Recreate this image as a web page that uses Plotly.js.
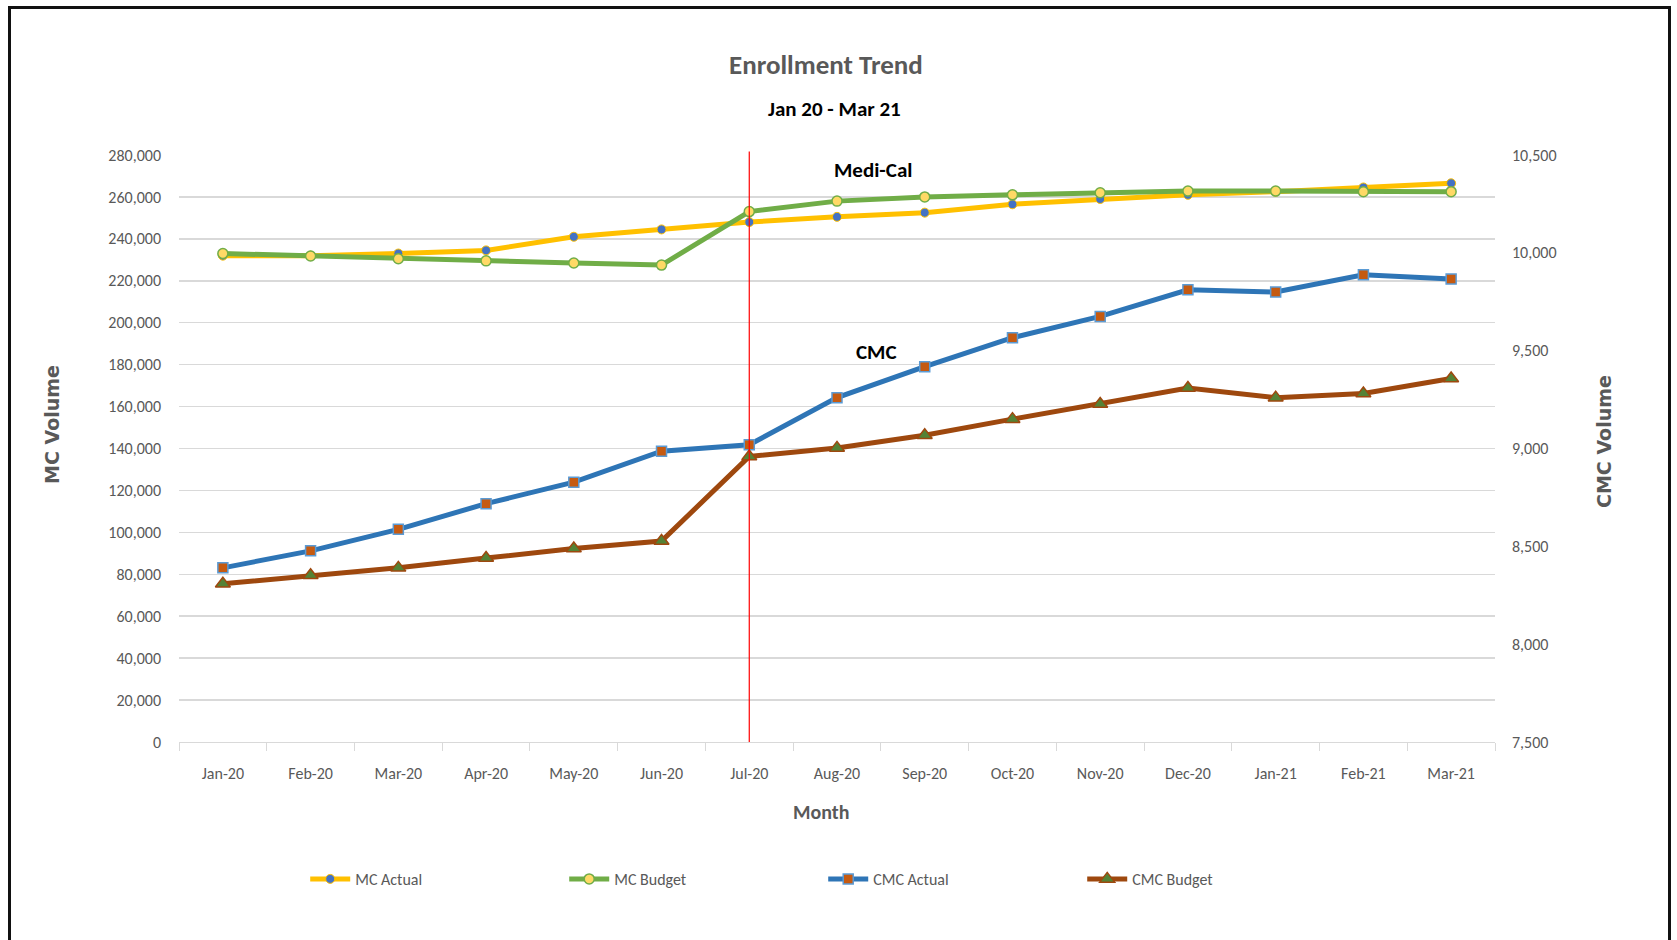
<!DOCTYPE html>
<html>
<head>
<meta charset="utf-8">
<script src="https://cdn.plot.ly/plotly-3.0.1.min.js"></script>
<style>
  html, body { margin: 0; padding: 0; background: #fff; }
  #wrap { position: relative; width: 1677px; height: 940px; overflow: hidden; }
  #chart { position: absolute; left: 0; top: 0; width: 1677px; height: 940px; }
  #frame { position: absolute; left: 8px; top: 6px; width: 1663px; height: 960px; border: 3px solid #111; box-sizing: border-box; pointer-events: none; }
</style>
</head>
<body>
<div id="wrap">
  <div id="chart"></div>
  <div id="frame"></div>
</div>
<script>
const months = ["Jan-20","Feb-20","Mar-20","Apr-20","May-20","Jun-20","Jul-20","Aug-20","Sep-20","Oct-20","Nov-20","Dec-20","Jan-21","Feb-21","Mar-21"];
const mcActual = [232000, 232000, 233000, 234500, 241000, 244500, 248000, 250500, 252500, 256500, 259000, 261000, 262500, 264500, 266500];
const mcBudget = [233000, 231800, 230500, 229500, 228500, 227500, 253000, 258000, 260000, 261000, 262000, 262800, 262800, 262500, 262500];
const cmcActual = [8390, 8477, 8587, 8718, 8828, 8986, 9019, 9260, 9418, 9566, 9675, 9811, 9800, 9888, 9866];
const cmcBudget = [8309, 8352, 8390, 8440, 8489, 8527, 8959, 9003, 9068, 9150, 9227, 9309, 9260, 9281, 9358];
const leftTicks = [0,20000,40000,60000,80000,100000,120000,140000,160000,180000,200000,220000,240000,260000,280000];
const rightTicks = [7500,8000,8500,9000,9500,10000,10500];
const dividerMonth = "Jul-20";

const FONT = "Calibri, Carlito, 'Liberation Sans Narrow', 'DejaVu Sans Condensed', sans-serif";
const AXFONT = "Verdana, 'DejaVu Sans', sans-serif";
const GRAY = "#595959";

// page-pixel -> paper helpers
const ML = 179, MR = 182, MT = 155, MB = 198, W = 1677, H = 940;
const PW = W - ML - MR, PH = H - MT - MB;
const px = v => (v - ML) / PW;
const py = v => (H - MB - v) / PH;

const traces = [
  {name: "MC Actual", x: months, y: mcActual, yaxis: "y", type: "scatter", mode: "lines+markers",
   line: {color: "#FFC000", width: 5}, marker: {symbol: "circle", size: 9, color: "#4472C4", line: {color: "#FFC000", width: 1}}},
  {name: "MC Budget", x: months, y: mcBudget, yaxis: "y", type: "scatter", mode: "lines+markers",
   line: {color: "#70AD47", width: 5}, marker: {symbol: "circle", size: 10, color: "#FFD966", line: {color: "#70AD47", width: 1.5}}},
  {name: "CMC Actual", x: months, y: cmcActual, yaxis: "y2", type: "scatter", mode: "lines+markers",
   line: {color: "#2E75B6", width: 5}, marker: {symbol: "square", size: 10, color: "#C55A11", line: {color: "#5B9BD5", width: 1.5}}},
  {name: "CMC Budget", x: months, y: cmcBudget, yaxis: "y2", type: "scatter", mode: "lines+markers",
   line: {color: "#9E480E", width: 5}, marker: {symbol: "triangle-up", size: 13, color: "#548235", line: {color: "#9E480E", width: 1.5}}}
];

const layout = {
  width: W, height: H,
  margin: {l: ML, r: MR, t: MT, b: MB},
  paper_bgcolor: "#fff", plot_bgcolor: "#fff",
  font: {family: FONT, color: GRAY, size: 16},
  showlegend: true,
  legend: {orientation: "h", xref: "container", yref: "container", x: 0.182, y: 1 - 879/940,
           xanchor: "left", yanchor: "middle", entrywidth: 204, entrywidthmode: "pixels",
           itemwidth: 40, font: {family: FONT, size: 16, color: GRAY}, traceorder: "normal"},
  xaxis: {type: "category", categoryarray: months, range: [-0.5, 14.5], showgrid: false,
          showline: true, linecolor: "#d9d9d9", linewidth: 1, ticks: "outside", ticklen: 8,
          tickcolor: "#d9d9d9", tickson: "boundaries", zeroline: false, fixedrange: true,
          ticklabelstandoff: 17, tickfont: {family: FONT, size: 16, color: GRAY}},
  yaxis: {range: [0, 280000], tickvals: leftTicks, ticktext: leftTicks.map(v => v.toLocaleString("en-US")),
          showgrid: true, gridcolor: "#d9d9d9", gridwidth: 1.5, zeroline: false, showline: false,
          ticks: "", ticklabelstandoff: 17, tickfont: {family: FONT, size: 16, color: GRAY}},
  yaxis2: {range: [7500, 10500], overlaying: "y", side: "right", tickvals: rightTicks,
           ticktext: rightTicks.map(v => v.toLocaleString("en-US")), showgrid: false, zeroline: false,
           showline: false, ticks: "", ticklabelstandoff: 16, tickfont: {family: FONT, size: 16, color: GRAY}},
  shapes: [
    {type: "line", xref: "x", yref: "paper", x0: dividerMonth, x1: dividerMonth, y0: 0, y1: 1.006,
     line: {color: "#FF0000", width: 1.2}, layer: "above"}
  ],
  annotations: [
    {text: "<b>Enrollment Trend</b>", xref: "paper", yref: "paper", x: px(826), y: py(64),
     xanchor: "center", yanchor: "middle", showarrow: false, font: {family: FONT, size: 27, color: GRAY}},
    {text: "<b>Jan 20 - Mar 21</b>", xref: "paper", yref: "paper", x: px(834), y: py(109),
     xanchor: "center", yanchor: "middle", showarrow: false, font: {family: FONT, size: 21, color: "#000"}},
    {text: "<b>Month</b>", xref: "paper", yref: "paper", x: px(821), y: py(812),
     xanchor: "center", yanchor: "middle", showarrow: false, font: {family: FONT, size: 20, color: GRAY}},
    {text: "<b>MC Volume</b>", xref: "paper", yref: "paper", x: px(52), y: py(424),
     xanchor: "center", yanchor: "middle", showarrow: false, textangle: -90, font: {family: AXFONT, size: 19, color: GRAY}},
    {text: "<b>CMC Volume</b>", xref: "paper", yref: "paper", x: px(1604), y: py(442),
     xanchor: "center", yanchor: "middle", showarrow: false, textangle: -90, font: {family: AXFONT, size: 19, color: GRAY}},
    {text: "<b>Medi-Cal</b>", xref: "paper", yref: "paper", x: px(873), y: py(170),
     xanchor: "center", yanchor: "middle", showarrow: false, font: {family: FONT, size: 21, color: "#000"}},
    {text: "<b>CMC</b>", xref: "paper", yref: "paper", x: px(877), y: py(352),
     xanchor: "center", yanchor: "middle", showarrow: false, font: {family: FONT, size: 21, color: "#000"}}
  ]
};

Plotly.newPlot("chart", traces, layout, {displayModeBar: false, staticPlot: true});
</script>
</body>
</html>
